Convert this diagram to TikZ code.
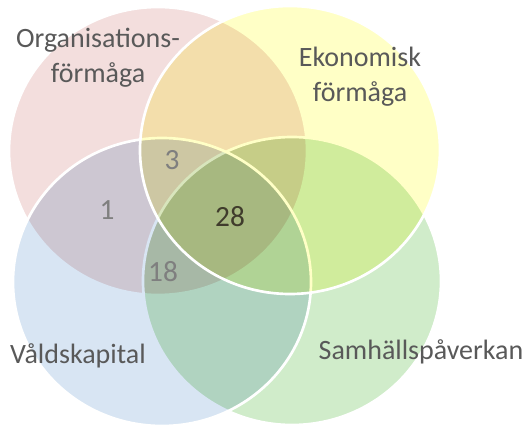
\documentclass[tikz,border=0pt]{standalone}
\usepackage{fontspec}
\setmainfont{Carlito}
\usetikzlibrary{positioning}
\definecolor{orgpink}{RGB}{243,222,221}
\definecolor{ekoyellow}{RGB}{255,255,198}
\definecolor{valdblue}{RGB}{216,229,243}
\definecolor{samgreen}{RGB}{208,236,202}
\definecolor{labelgrey}{RGB}{89,89,89}
\definecolor{numgrey}{RGB}{127,127,127}
\definecolor{numdark}{RGB}{64,60,44}

\begin{document}
\begin{tikzpicture}[x=0.75pt,y=-0.75pt,
		ring/.style={draw=white,line width=2pt},
		lbl/.style={text=labelgrey,font=\fontsize{21}{26}\selectfont,align=center},
		num/.style={text=numgrey,font=\fontsize{22}{26}\selectfont}]
		\useasboundingbox (0,0) rectangle (529,427);
		% centres of the four sets
		\coordinate (org) at (158,151);
		\coordinate (sam) at (292,281);
		\coordinate (vald) at (162,282);
		\coordinate (eko) at (290,150);
		% fills multiply, outlines white on top
		\begin{scope}[blend mode=multiply]
			\fill[orgpink] (org) ellipse [x radius=149, y radius=144];
		\end{scope}
		\draw[ring] (org) ellipse [x radius=149, y radius=144];
		\begin{scope}[blend mode=multiply]
			\fill[samgreen] (sam) ellipse [x radius=149, y radius=144];
		\end{scope}
		\draw[ring] (sam) ellipse [x radius=149, y radius=144];
		\begin{scope}[blend mode=multiply]
			\fill[valdblue] (vald) ellipse [x radius=149, y radius=144];
		\end{scope}
		\draw[ring] (vald) ellipse [x radius=149, y radius=144];
		\begin{scope}[blend mode=multiply]
			\fill[ekoyellow] (eko) ellipse [x radius=150, y radius=144];
		\end{scope}
		\draw[ring] (eko) ellipse [x radius=150, y radius=144];

		\node[lbl] (orglbl) at (98,58) {Organisations-\\förmåga};
		\node[lbl] (ekolbl) at (360,77) {Ekonomisk\\förmåga};
		\node[lbl] (valdlbl) at (78,356) {Våldskapital};
		\node[lbl] (samlbl) at (421,352) {Samhällspåverkan};

		\node[num] (n1) at (107,210) {1};
		\node[num] (n3) at (172,160) {3};
		\node[num,text=numdark] (n28) at (230,217) {28};
		\node[num] (n18) at (163,272) {18};
	\end{tikzpicture}
\end{document}
